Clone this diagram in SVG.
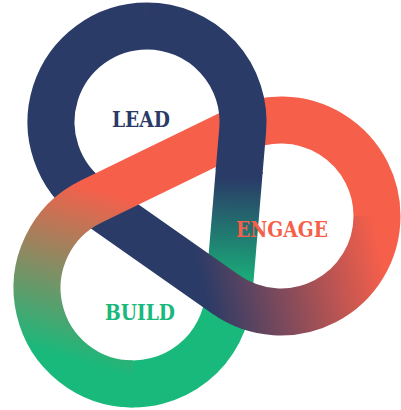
<svg xmlns="http://www.w3.org/2000/svg" width="401" height="410" viewBox="0 0 401 410">
  <style>
    .band { fill: none; stroke-width: 47; }
    .label { font-family: "DejaVu Serif", "Liberation Serif", serif; font-stretch: condensed; font-weight: bold; font-size: 22.5px; }
  </style>
  <defs>
    <linearGradient id="gVertical" gradientUnits="userSpaceOnUse" x1="236" y1="178" x2="232" y2="292">
      <stop offset="0" stop-color="#2a3b67"/>
      <stop offset="1" stop-color="#18b97b"/>
    </linearGradient>
    <linearGradient id="gDiagonal" gradientUnits="userSpaceOnUse" x1="205" y1="300" x2="382" y2="262">
      <stop offset="0" stop-color="#2a3b67"/>
      <stop offset="1" stop-color="#f65f4a"/>
    </linearGradient>
    <linearGradient id="gLeft" gradientUnits="userSpaceOnUse" x1="70" y1="360" x2="118" y2="195">
      <stop offset="0" stop-color="#18b97b"/>
      <stop offset="1" stop-color="#f65f4a"/>
    </linearGradient>
  </defs>
  <g id="connectors">
    <path class="band" stroke="url(#gVertical)" d="M239.3 170 L228.7 296.1 A96 96 0 0 1 120 383"/>
    <path class="band" stroke="url(#gDiagonal)" d="M147 26 A96 96 0 0 0 91.9 200.6 L225.9 294.6 A96 96 0 0 0 377 216"/>
    <path class="band" stroke="url(#gLeft)" d="M133 384 A96 96 0 0 1 91 201.7 L239 129.7 A96 96 0 0 1 377 216"/>
    <path class="band" stroke="url(#gVertical)" d="M147 26 A96 96 0 0 1 242.7 130.1 L239.1 172"/>
  </g>
  <g id="lead"><text class="label" x="112" y="126.5" fill="#2a3b67" textLength="58" lengthAdjust="spacingAndGlyphs">LEAD</text></g>
  <g id="engage"><text class="label" x="236" y="236.5" fill="#f65f4a" textLength="92" lengthAdjust="spacingAndGlyphs">ENGAGE</text></g>
  <g id="build"><text class="label" x="105" y="320" fill="#18b97b" textLength="70" lengthAdjust="spacingAndGlyphs">BUILD</text></g>
</svg>
